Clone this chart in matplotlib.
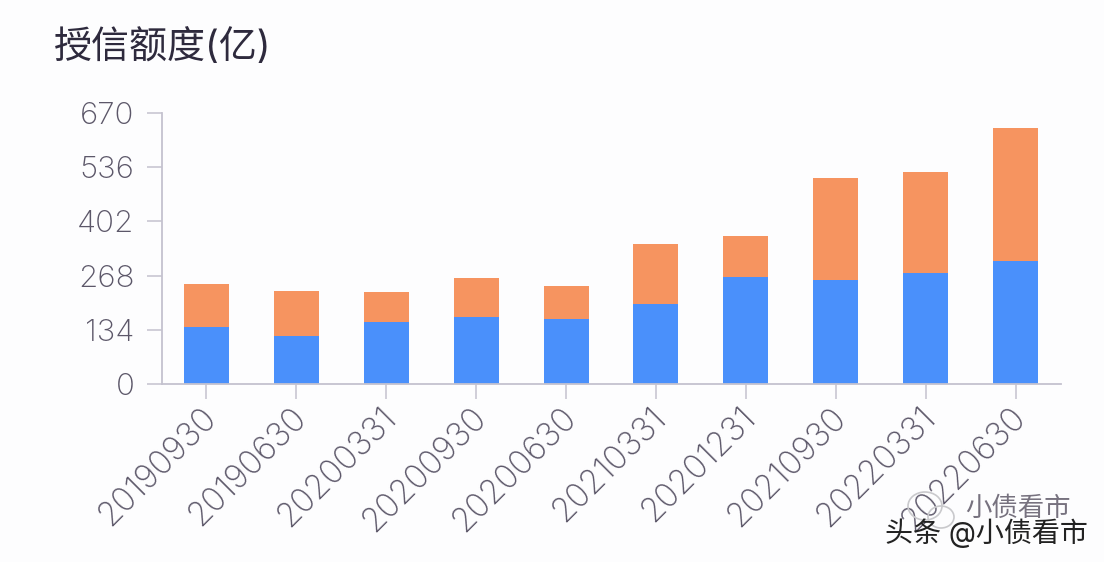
import matplotlib
matplotlib.use('Agg')
import matplotlib.pyplot as plt
from matplotlib.patches import Ellipse
from matplotlib.transforms import ScaledTranslation

plt.rcParams['font.family'] = ['Inter', 'Noto Sans CJK SC', 'DejaVu Sans']

# dados
datas = ['20190930', '20190630', '20200331', '20200930', '20200630',
         '20210331', '20201231', '20210930', '20220331', '20220630']
azul = [141, 119, 153, 165, 161, 198, 265, 257, 274, 304]
laranja = [106, 111, 74, 97, 81, 148, 101, 252, 250, 329]
ticks_y = [0, 134, 268, 402, 536, 670]

COR_TEXTO = '#5c5769'
COR_EIXO = '#c4c2cf'

fig = plt.figure(figsize=(11.04, 5.62), dpi=100, facecolor='#fdfdfe')
ax = fig.add_axes([161.5 / 1104, 1 - 384 / 562, 899 / 1104, 271 / 562])
ax.set_facecolor('#fdfdfe')

x = list(range(len(datas)))
ax.bar(x, azul, width=0.5, color='#4a90fb')
ax.bar(x, laranja, width=0.5, bottom=azul, color='#f69460')

ax.set_xlim(-0.5, 9.5)
ax.set_ylim(0, 670)
ax.set_yticks(ticks_y)
ax.set_xticks(x)
ax.set_xticklabels(datas, rotation=45, ha='right', va='top', rotation_mode='anchor')

ax.tick_params(axis='y', length=10.5, width=1.1, color=COR_EIXO, labelsize=22.5,
               labelcolor=COR_TEXTO, pad=9)
ax.tick_params(axis='x', length=11, width=1.1, color=COR_EIXO, labelsize=24,
               labelcolor=COR_TEXTO, pad=8)
for rotulo in ax.get_yticklabels() + ax.get_xticklabels():
    rotulo.set_fontweight('light')
# desloca os rotulos do eixo x para a esquerda e para cima
desloc = ScaledTranslation(-6 / 100, 9 / 100, fig.dpi_scale_trans)
for rotulo in ax.get_xticklabels():
    rotulo.set_transform(rotulo.get_transform() + desloc)

for lado in ['top', 'right']:
    ax.spines[lado].set_visible(False)
for lado in ['left', 'bottom']:
    ax.spines[lado].set_color(COR_EIXO)
    ax.spines[lado].set_linewidth(1.3)

fig.text(54 / 1104, 1 - 48 / 562, '授信额度(亿)', fontsize=27.4, color='#2e2a3d', va='center')

# marcas d'agua
for cx, cy, w, h in [(925, 506, 34, 28), (941, 517, 26, 22)]:
    fig.add_artist(Ellipse((cx / 1104, 1 - cy / 562), w / 1104, h / 562, fill=False,
                           edgecolor='#c9c9cc', linewidth=1.2, transform=fig.transFigure))
fig.text(965 / 1104, 1 - 509 / 562, '小债看市', fontsize=19, color='#77727f', va='center')
fig.text(885 / 1104, 1 - 533 / 562, '头条 @小债看市', fontsize=20.2, color='#222222', va='center')

fig.savefig('out.png', dpi=100, facecolor=fig.get_facecolor())
